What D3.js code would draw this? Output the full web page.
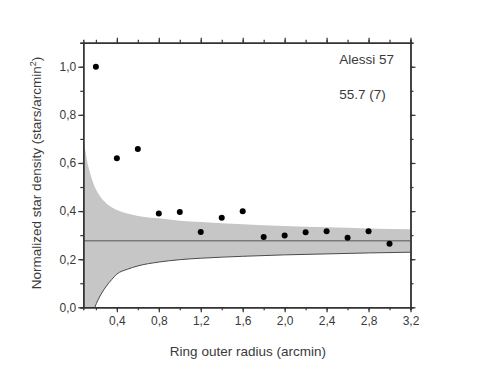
<!DOCTYPE html>
<html>
<head>
<meta charset="utf-8">
<script src="https://cdn.jsdelivr.net/npm/d3@7"></script>
<style>
  body { margin: 0; background: #fff; }
  svg text { font-family: "Liberation Sans", Arial, sans-serif; }
</style>
</head>
<body>
<div id="chart"></div>
<script>
// measured ring densities
const radii = [0.2, 0.4, 0.6, 0.8, 1.0, 1.2, 1.4, 1.6, 1.8, 2.0, 2.2, 2.4, 2.6, 2.8, 3.0];
const density = [1.0, 0.62, 0.658, 0.39, 0.396, 0.313, 0.372, 0.399, 0.292, 0.299, 0.312, 0.316, 0.289, 0.316, 0.264];

// background level and its 1-sigma band
const background = 0.277;
const bandR     = [0.08, 0.1, 0.12, 0.15, 0.19, 0.22, 0.25, 0.3, 0.35, 0.4, 0.5, 0.6, 0.8, 1.0, 1.2, 1.6, 2.0, 2.4, 2.8, 3.2];
const bandUpper = [0.70, 0.65, 0.60, 0.55, 0.50, 0.475, 0.455, 0.432, 0.416, 0.405, 0.39, 0.38, 0.37, 0.36, 0.355, 0.345, 0.338, 0.333, 0.328, 0.324];
const bandLower = [-0.3, -0.21, -0.13, -0.055, 0.0, 0.03, 0.055, 0.088, 0.115, 0.138, 0.158, 0.172, 0.188, 0.198, 0.204, 0.212, 0.218, 0.222, 0.226, 0.229];

const xTickLabels = ['0,4', '0,8', '1,2', '1,6', '2,0', '2,4', '2,8', '3,2'];
const yTickLabels = ['0,0', '0,2', '0,4', '0,6', '0,8', '1,0'];

const W = 477, H = 369;
const margin = { top: 42.7, right: 66.5, bottom: 61.7, left: 83.3 };
const width = W - margin.left - margin.right;
const height = H - margin.top - margin.bottom;

const svg = d3.select('#chart').append('svg')
    .attr('width', W)
    .attr('height', H);

const g = svg.append('g')
    .attr('transform', `translate(${margin.left},${margin.top})`);

const x = d3.scaleLinear().domain([0.08, 3.2]).range([0, width]);
const y = d3.scaleLinear().domain([0, 1.1]).range([height, 0]);

g.append('clipPath').attr('id', 'plot-clip')
    .append('rect').attr('width', width).attr('height', height);

const band = bandR.map((r, i) => ({ r, lo: bandLower[i], hi: bandUpper[i] }));

const area = d3.area()
    .x(d => x(d.r))
    .y0(d => y(d.lo))
    .y1(d => y(d.hi))
    .curve(d3.curveMonotoneX);

const lowerLine = d3.line()
    .x(d => x(d.r))
    .y(d => y(d.lo))
    .curve(d3.curveMonotoneX);

const plot = g.append('g').attr('clip-path', 'url(#plot-clip)');

plot.append('path')
    .datum(band)
    .attr('d', area)
    .attr('fill', '#c6c6c6');

plot.append('path')
    .datum(band)
    .attr('d', lowerLine)
    .attr('fill', 'none')
    .attr('stroke', '#4a4a4a')
    .attr('stroke-width', 1);

plot.append('line')
    .attr('x1', 0).attr('x2', width)
    .attr('y1', y(background)).attr('y2', y(background))
    .attr('stroke', '#7a7a7a')
    .attr('stroke-width', 1.5);

plot.selectAll('.dot')
    .data(radii.map((r, i) => ({ r, v: density[i] })))
    .join('circle')
    .attr('class', 'dot')
    .attr('cx', d => x(d.r))
    .attr('cy', d => y(d.v))
    .attr('r', 3)
    .attr('fill', '#000');

// ticks on all four sides, pointing outward
const xMinor = d3.range(0.2, 3.21, 0.2).map(v => +v.toFixed(1));
const xMajor = d3.range(0.4, 3.21, 0.4).map(v => +v.toFixed(1));
const yMinor = d3.range(0, 1.101, 0.1).map(v => +v.toFixed(1));
const yMajor = d3.range(0, 1.01, 0.2).map(v => +v.toFixed(1));

function styleAxis(sel) {
    sel.select('.domain').attr('stroke', '#333').attr('stroke-width', 1.4);
    sel.selectAll('.tick line').attr('stroke', '#333').attr('stroke-width', 1.2);
    sel.selectAll('.tick text').attr('fill', '#3a3a3a').style('font-size', '12px');
}

// bottom
g.append('g').attr('transform', `translate(0,${height})`)
    .call(d3.axisBottom(x).tickValues(xMinor).tickSize(3).tickFormat(''))
    .call(styleAxis);
g.append('g').attr('transform', `translate(0,${height})`)
    .call(d3.axisBottom(x).tickValues(xMajor).tickSize(5).tickSizeOuter(0)
        .tickFormat((d, i) => xTickLabels[i]).tickPadding(4))
    .call(styleAxis);
// top
g.append('g')
    .call(d3.axisTop(x).tickValues(xMinor).tickSize(3).tickFormat(''))
    .call(styleAxis);
g.append('g')
    .call(d3.axisTop(x).tickValues(xMajor).tickSize(5).tickSizeOuter(0).tickFormat(''))
    .call(styleAxis);
// left
g.append('g')
    .call(d3.axisLeft(y).tickValues(yMinor).tickSize(3).tickFormat(''))
    .call(styleAxis);
g.append('g')
    .call(d3.axisLeft(y).tickValues(yMajor).tickSize(5).tickSizeOuter(0)
        .tickFormat((d, i) => yTickLabels[i]).tickPadding(2))
    .call(styleAxis);
// right
g.append('g').attr('transform', `translate(${width},0)`)
    .call(d3.axisRight(y).tickValues(yMinor).tickSize(3).tickFormat(''))
    .call(styleAxis);
g.append('g').attr('transform', `translate(${width},0)`)
    .call(d3.axisRight(y).tickValues(yMajor).tickSize(5).tickSizeOuter(0).tickFormat(''))
    .call(styleAxis);

// labels
g.append('text')
    .attr('x', width / 2 + 1)
    .attr('y', height + 49)
    .attr('text-anchor', 'middle')
    .attr('fill', '#3a3a3a')
    .style('font-size', '13.5px')
    .text('Ring outer radius (arcmin)');

const yl = g.append('text')
    .attr('transform', `translate(-42,${height / 2 - 2}) rotate(-90)`)
    .attr('text-anchor', 'middle')
    .attr('fill', '#3a3a3a')
    .style('font-size', '13.5px');
yl.append('tspan').text('Normalized star density (stars/arcmin');
yl.append('tspan').attr('dy', -5).style('font-size', '9px').text('2');
yl.append('tspan').attr('dy', 5).text(')');

g.append('text')
    .attr('x', 256)
    .attr('y', 21.5)
    .attr('fill', '#3a3a3a')
    .style('font-size', '13.5px')
    .text('Alessi 57');

g.append('text')
    .attr('x', 256)
    .attr('y', 56.5)
    .attr('fill', '#3a3a3a')
    .style('font-size', '13.5px')
    .text('55.7 (7)');
</script>
</body>
</html>
